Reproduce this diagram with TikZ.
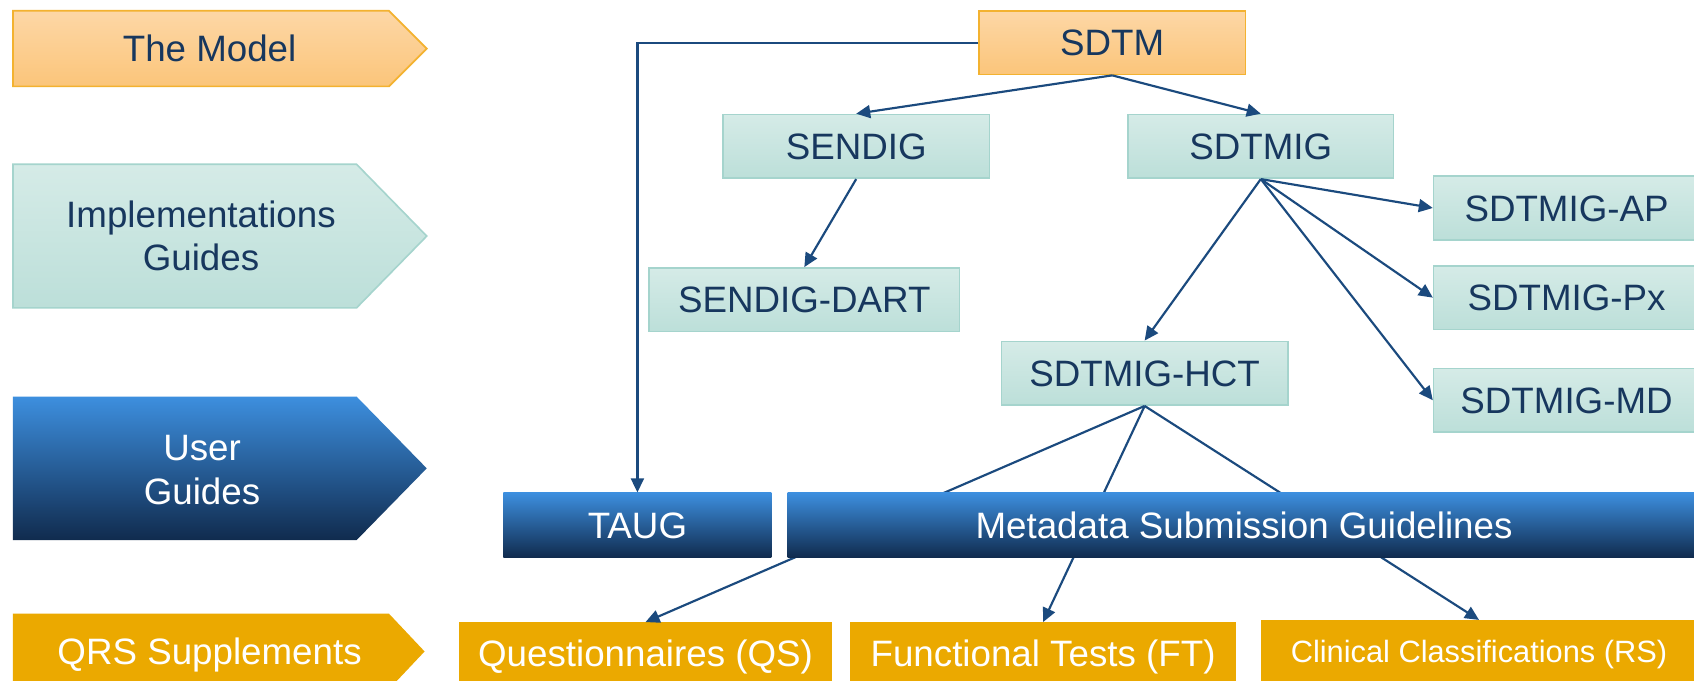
\documentclass[tikz,border=0pt]{standalone}
\usepackage{fontspec}
\setmainfont{Liberation Sans}
\usetikzlibrary{arrows.meta}
\definecolor{txtblue}{HTML}{17375E}
\definecolor{arrowblue}{HTML}{1B4A7E}
\definecolor{orTop}{HTML}{FDD7A6}
\definecolor{orBot}{HTML}{FBC57A}
\definecolor{orLine}{HTML}{F3B230}
\definecolor{tlTop}{HTML}{D5EBE7}
\definecolor{tlBot}{HTML}{BCDFD9}
\definecolor{tlLine}{HTML}{A5D4CD}
\definecolor{blTop}{HTML}{3D8FDF}
\definecolor{blBot}{HTML}{102B4E}
\definecolor{goldfill}{HTML}{EBA900}
\begin{document}
\begin{tikzpicture}[x=1pt,y=-1pt,
  bigtxt/.style={font=\fontsize{34}{40}\selectfont},
  captxt/.style={bigtxt,text height=24.4pt,text depth=0pt},
  boxbase/.style={captxt,inner sep=0pt,minimum height=59pt},
  orbox/.style={boxbase,draw=orLine,line width=1.5pt,top color=orTop,bottom color=orBot,text=txtblue},
  tlbox/.style={boxbase,draw=tlLine,line width=1.5pt,top color=tlTop,bottom color=tlBot,text=txtblue},
  blbox/.style={boxbase,minimum height=60pt,top color=blTop,bottom color=blBot,text=white},
  gdbox/.style={boxbase,minimum height=58pt,fill=goldfill,text=white},
  orshape/.style={draw=orLine,line width=1.5pt,top color=orTop,bottom color=orBot},
  tlshape/.style={draw=tlLine,line width=1.5pt,top color=tlTop,bottom color=tlBot},
  blshape/.style={top color=blTop,bottom color=blBot},
  gdshape/.style={fill=goldfill},
  conn/.style={draw=arrowblue,line width=2pt,-{Triangle[length=13pt,width=12pt]}},
  plainconn/.style={draw=arrowblue,line width=2pt}
]
\clip (0,0) rectangle (1568,630);
\fill[white] (0,0) rectangle (1568,630);

% left column
\path[orshape] (12,10) -- (360,10) -- (395,45) -- (360,80) -- (12,80) -- cycle;
\node[captxt,text=txtblue] (lblmodel) at (194,45) {The Model};
\path[tlshape] (12,152) -- (330,152) -- (395,218.5) -- (330,285) -- (12,285) -- cycle;
\node[bigtxt,text=txtblue,align=center] (lblimpl) at (186,218.5) {Implementations\\Guides};
\path[blshape] (12,367) -- (330,367) -- (395,433.5) -- (330,500) -- (12,500) -- cycle;
\node[bigtxt,text=white,align=center] (lbluser) at (187,435) {User\\Guides};
\path[gdshape] (12,568) -- (360,568) -- (393,603) -- (360,638) -- (12,638) -- cycle;
\node[captxt,text=white] (lblqrs) at (194,603) {QRS Supplements};

% nodes
\node[orbox,minimum width=247pt] (sdtm) at (1029.5,39.5) {SDTM};
\node[tlbox,minimum width=247pt] (sendig) at (792.5,135.5) {SENDIG};
\node[tlbox,minimum width=246pt] (sdtmig) at (1167,135.5) {SDTMIG};
\node[tlbox,minimum width=287pt] (dart) at (744.5,277.5) {SENDIG-DART};
\node[tlbox,minimum width=246pt] (ap) at (1450,192.5) {SDTMIG-AP};
\node[tlbox,minimum width=246pt] (px) at (1450,275.5) {SDTMIG-Px};
\node[tlbox,minimum width=246pt] (md) at (1450,370.5) {SDTMIG-MD};
\node[tlbox,minimum width=265pt] (hct) at (1059.5,345.5) {SDTMIG-HCT};
\node[blbox,minimum width=248pt] (taug) at (590,486) {TAUG};
\node[gdbox,minimum width=345pt] (qs) at (597.5,605) {Questionnaires (QS)};
\node[gdbox,minimum width=357pt] (ft) at (965.5,605) {Functional Tests (FT)};
\node[gdbox,minimum width=404pt,font=\fontsize{28.5}{34}\selectfont,text height=20.4pt] (rs) at (1369,603) {Clinical Classifications (RS)};

% connectors
\draw[conn] (sdtm.west) -| (taug.north);
\draw[conn] (sdtm.south) -- (sendig.north);
\draw[conn] (sdtm.south) -- (sdtmig.north);
\draw[conn] (sendig.south) -- (dart.north);
\draw[conn] (sdtmig.south) -- (ap.west);
\draw[conn] (sdtmig.south) -- (px.west);
\draw[conn] (sdtmig.south) -- (md.west);
\draw[conn] (sdtmig.south) -- (hct.north);
\draw[conn] (hct.south) -- (qs.north);
\draw[conn] (hct.south) -- (ft.north);
\draw[conn] (hct.south) -- (rs.north);

% metadata box drawn over the connectors
\node[blbox,minimum width=845pt] (msg) at (1151.5,486) {Metadata Submission Guidelines};
\end{tikzpicture}
\end{document}
